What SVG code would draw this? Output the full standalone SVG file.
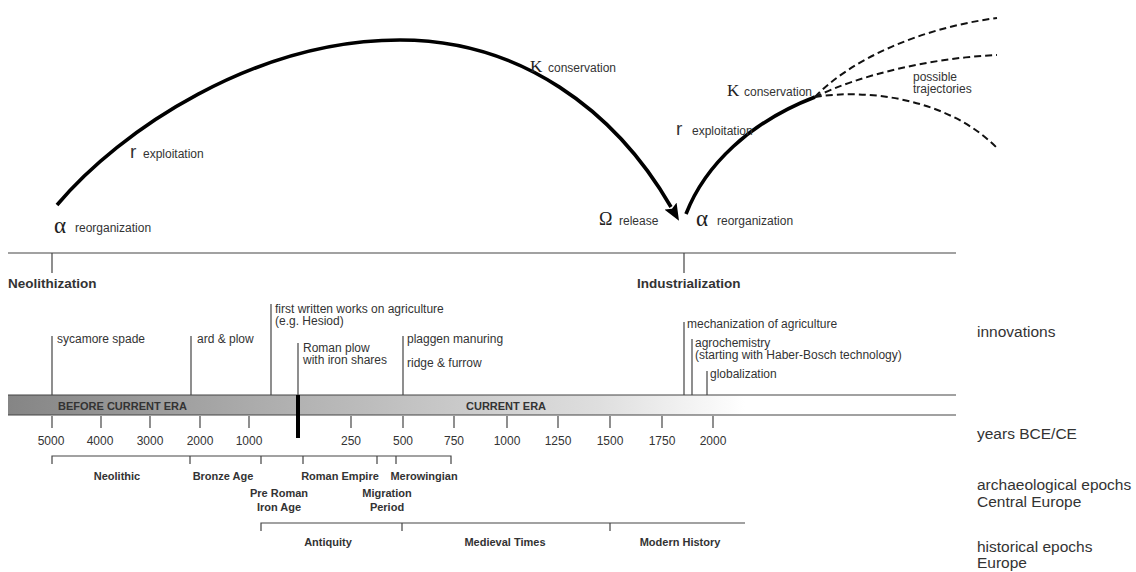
<svg xmlns="http://www.w3.org/2000/svg" width="1136" height="572" viewBox="0 0 1136 572">
<style>
text{font-family:"Liberation Sans",Arial,sans-serif;fill:#333}
.s{font-size:12px}
.b{font-size:11px;font-weight:bold}
.lab{font-size:15.5px}
.gk{font-family:"Liberation Serif","Times New Roman",serif;fill:#222}
.ln{stroke:#444;stroke-width:1.2;fill:none}
.cv{stroke:#000;stroke-width:3.6;fill:none;stroke-linecap:butt}
.dash{stroke:#111;stroke-width:2;fill:none;stroke-dasharray:7 4}
.yr{font-size:12px;text-anchor:middle}
.c{text-anchor:middle}
</style>
<defs>
<marker id="ah" markerUnits="userSpaceOnUse" markerWidth="18" markerHeight="14" refX="1" refY="7" orient="auto">
<path d="M0,0 L17,7 L0,14 L3,7 z" fill="#000"/>
</marker>
<linearGradient id="bar" gradientUnits="userSpaceOnUse" x1="8" y1="0" x2="745" y2="0">
<stop offset="0" stop-color="#858585"/>
<stop offset="0.39" stop-color="#b2b2b2"/>
<stop offset="0.8" stop-color="#dedede"/>
<stop offset="1" stop-color="#ffffff"/>
</linearGradient>
</defs>

<g id="connectors">
<path class="cv" d="M57,205 C120,130 255,40 400,40 C520,40 615,110 671,207" marker-end="url(#ah)"/>
<path class="cv" d="M686,214 C705,165 750,122 815,97"/>
<path class="dash" d="M815,97 C850,60 920,28 997,18"/>
<path class="dash" d="M815,97 C860,75 930,58 997,55"/>
<path class="dash" d="M815,97 C870,88 950,100 997,148"/>
</g>

<g id="cycle-labels">
<g id="alpha1"><text class="gk" x="54" y="233" font-size="23">α</text><text class="s" x="75" y="232">reorganization</text></g>
<g id="r1"><text x="130" y="158" font-size="19">r</text><text class="s" x="143" y="158">exploitation</text></g>
<g id="K1"><text class="gk" x="530" y="72" font-size="17">K</text><text class="s" x="548" y="72">conservation</text></g>
<g id="omega"><text class="gk" x="599" y="225" font-size="18">Ω</text><text class="s" x="619" y="225">release</text></g>
<g id="alpha2"><text class="gk" x="696" y="226" font-size="23">α</text><text class="s" x="717" y="225">reorganization</text></g>
<g id="r2"><text x="676" y="135" font-size="19">r</text><text class="s" x="692" y="135">exploitation</text></g>
<g id="K2"><text class="gk" x="727" y="96" font-size="17">K</text><text class="s" x="744" y="96">conservation</text></g>
<g id="trajectories"><text class="s" x="913" y="81">possible</text><text class="s" x="913" y="93">trajectories</text></g>
</g>

<g id="transitions">
<line class="ln" x1="8" y1="253" x2="956" y2="253"/>
<line class="ln" x1="52" y1="253" x2="52" y2="273"/>
<line class="ln" x1="684" y1="253" x2="684" y2="273"/>
<text x="8" y="288" font-size="13.5" font-weight="bold">Neolithization</text>
<text x="637" y="288" font-size="13.5" font-weight="bold">Industrialization</text>
</g>

<g id="innovations">
<line class="ln" x1="52" y1="336" x2="52" y2="395"/>
<text class="s" x="57" y="343">sycamore spade</text>
<line class="ln" x1="191" y1="336" x2="191" y2="395"/>
<text class="s" x="197" y="343">ard &amp; plow</text>
<line class="ln" x1="271" y1="304" x2="271" y2="395"/>
<text class="s" x="275" y="313">first written works on agriculture</text>
<text class="s" x="275" y="325">(e.g. Hesiod)</text>
<line class="ln" x1="298" y1="343" x2="298" y2="395"/>
<text class="s" x="303" y="352">Roman plow</text>
<text class="s" x="303" y="364">with iron shares</text>
<line class="ln" x1="403" y1="336" x2="403" y2="395"/>
<text class="s" x="407" y="343">plaggen manuring</text>
<text class="s" x="407" y="367">ridge &amp; furrow</text>
<line class="ln" x1="684" y1="322" x2="684" y2="395"/>
<text class="s" x="687" y="328">mechanization of agriculture</text>
<line class="ln" x1="692" y1="339" x2="692" y2="395"/>
<text class="s" x="695" y="347">agrochemistry</text>
<text class="s" x="695" y="359">(starting with Haber-Bosch technology)</text>
<line class="ln" x1="707" y1="371" x2="707" y2="395"/>
<text class="s" x="710" y="378">globalization</text>
</g>

<g id="era-bar">
<rect x="8" y="395" width="737" height="20" fill="url(#bar)"/>
<line class="ln" x1="8" y1="395" x2="956" y2="395"/>
<line class="ln" x1="8" y1="415" x2="956" y2="415"/>
<text x="58" y="410" font-size="11" font-weight="bold" fill="#222">BEFORE CURRENT ERA</text>
<text x="466" y="410" font-size="11" font-weight="bold" fill="#222">CURRENT ERA</text>
<line x1="298" y1="395" x2="298" y2="438" stroke="#000" stroke-width="4"/>
</g>

<g id="years">
<g class="ln">
<line x1="52" y1="416" x2="52" y2="428"/><line x1="101" y1="416" x2="101" y2="428"/>
<line x1="150" y1="416" x2="150" y2="428"/><line x1="200" y1="416" x2="200" y2="428"/>
<line x1="249" y1="416" x2="249" y2="428"/><line x1="351" y1="416" x2="351" y2="428"/>
<line x1="403" y1="416" x2="403" y2="428"/><line x1="454" y1="416" x2="454" y2="428"/>
<line x1="507" y1="416" x2="507" y2="428"/><line x1="558" y1="416" x2="558" y2="428"/>
<line x1="610" y1="416" x2="610" y2="428"/><line x1="662" y1="416" x2="662" y2="428"/>
<line x1="713" y1="416" x2="713" y2="428"/>
</g>
<text class="yr" x="51" y="445">5000</text><text class="yr" x="100" y="445">4000</text>
<text class="yr" x="150" y="445">3000</text><text class="yr" x="200" y="445">2000</text>
<text class="yr" x="249" y="445">1000</text><text class="yr" x="351" y="445">250</text>
<text class="yr" x="403" y="445">500</text><text class="yr" x="454" y="445">750</text>
<text class="yr" x="507" y="445">1000</text><text class="yr" x="558" y="445">1250</text>
<text class="yr" x="610" y="445">1500</text><text class="yr" x="662" y="445">1750</text>
<text class="yr" x="713" y="445">2000</text>
</g>

<g id="archaeological">
<path class="ln" d="M52,464 V456 H451 V464 M190,456 V464 M261,456 V464 M303,456 V464 M377,456 V464 M396,456 V464"/>
<text class="b c" x="117" y="480">Neolithic</text>
<text class="b c" x="223" y="480">Bronze Age</text>
<text class="b c" x="340" y="480">Roman Empire</text>
<text class="b c" x="424" y="480">Merowingian</text>
<text class="b c" x="279" y="497">Pre Roman</text>
<text class="b c" x="279" y="511">Iron Age</text>
<text class="b c" x="387" y="497">Migration</text>
<text class="b c" x="387" y="511">Period</text>
</g>

<g id="historical">
<path class="ln" d="M261,531 V523 H745 M402,523 V531 M610,523 V531"/>
<text class="b c" x="328" y="546">Antiquity</text>
<text class="b c" x="505" y="546">Medieval Times</text>
<text class="b c" x="680" y="546">Modern History</text>
</g>

<g id="row-labels">
<text class="lab" x="977" y="337">innovations</text>
<text class="lab" x="977" y="439">years BCE/CE</text>
<text class="lab" x="977" y="490">archaeological epochs</text>
<text class="lab" x="977" y="507">Central Europe</text>
<text class="lab" x="977" y="552">historical epochs</text>
<text class="lab" x="977" y="568">Europe</text>
</g>
</svg>
